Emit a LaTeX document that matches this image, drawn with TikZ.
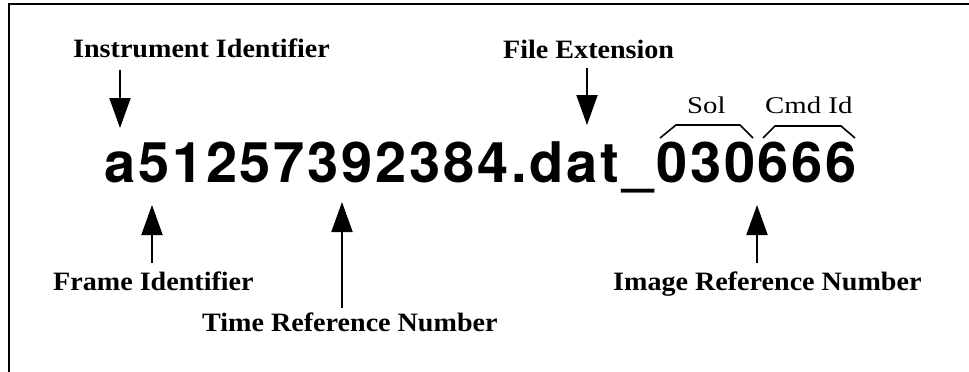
\documentclass[tikz,border=0pt]{standalone}
\usepackage{fontspec}
\usetikzlibrary{arrows.meta}
\newfontfamily\lblfont[FakeStretch=1.06]{Liberation Serif}
\newfontfamily\smallfont[FakeStretch=1.2]{Liberation Serif}
\newfontfamily\codefont[LetterSpace=5]{TeX Gyre Heros}
\tikzset{
  lbl/.style={inner sep=0pt, anchor=base west, font=\lblfont\bfseries\fontsize{26.5}{30}\selectfont},
  sublbl/.style={inner sep=0pt, anchor=base west, font=\smallfont\fontsize{24}{28}\selectfont},
  code/.style={inner sep=0pt, anchor=base west, font=\codefont\bfseries\fontsize{56}{60}\selectfont},
  pointer/.style={line width=2pt, -{Triangle[width=21pt,length=30pt]}},
  bracket/.style={line width=1.6pt},
  frameline/.style={line width=1.5pt}
}
\begin{document}
\begin{tikzpicture}[x=1pt,y=-1pt]
\useasboundingbox (0,0) rectangle (969,372);
\draw[frameline] (9,372) -- (9,4) -- (969,4);

\node[code] (name) at (104,182) {a51257392384.dat\_030666};

\node[lbl] (inst) at (73,57) {Instrument Identifier};
\node[lbl] (ext) at (503,58) {File Extension};
\node[sublbl] (sol) at (687,113) {Sol};
\node[sublbl] (cmd) at (765,113) {Cmd Id};
\node[lbl] (frame) at (53,290) {Frame Identifier};
\node[lbl] (time) at (202,331) {Time Reference Number};
\node[lbl] (image) at (613,290) {Image Reference Number};

\coordinate (instA) at (120,70);   \coordinate (instB) at (120,128);
\coordinate (extA) at (587,68);    \coordinate (extB) at (587,125);
\coordinate (frameA) at (152,263); \coordinate (frameB) at (152,205);
\coordinate (timeA) at (342,308);  \coordinate (timeB) at (342,202);
\coordinate (imageA) at (757,263); \coordinate (imageB) at (757,205);

\draw[pointer] (instA) -- (instB);
\draw[pointer] (extA) -- (extB);
\draw[pointer] (frameA) -- (frameB);
\draw[pointer] (timeA) -- (timeB);
\draw[pointer] (imageA) -- (imageB);

\coordinate (solL) at (660,138); \coordinate (solR) at (753,138);
\coordinate (cmdL) at (763,138); \coordinate (cmdR) at (855,138);
\draw[bracket] (solL) -- (676,125) -- (740,125) -- (solR);
\draw[bracket] (cmdL) -- (775,126) -- (841,126) -- (cmdR);
\end{tikzpicture}
\end{document}
